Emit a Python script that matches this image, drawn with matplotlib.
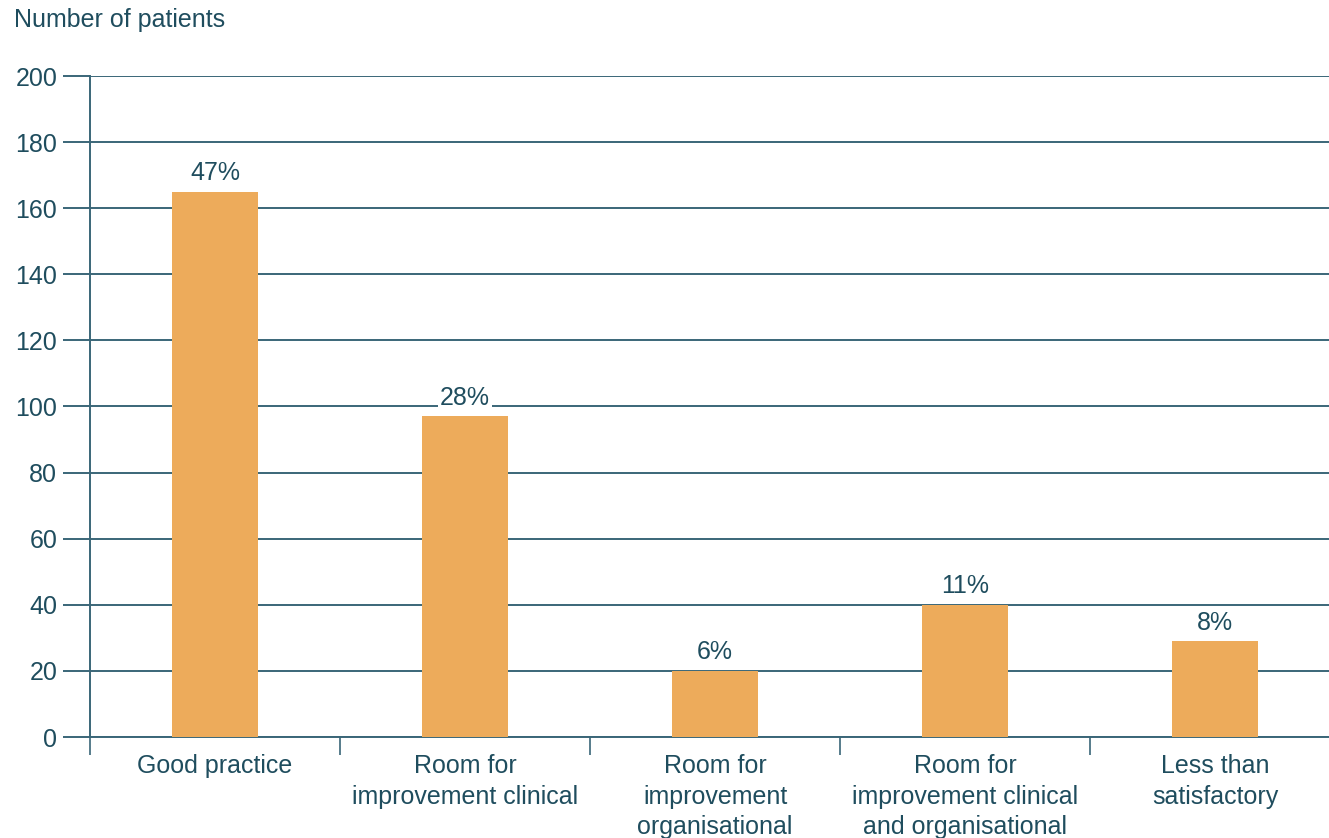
import matplotlib
matplotlib.use("Agg")
import matplotlib.pyplot as plt
import numpy as np

categories = [
    "Good practice",
    "Room for\nimprovement clinical",
    "Room for\nimprovement\norganisational",
    "Room for\nimprovement clinical\nand organisational",
    "Less than\nsatisfactory",
]
patients = [165, 97, 20, 40, 29]
pct_labels = ["47%", "28%", "6%", "11%", "8%"]
y_ticks = [0, 20, 40, 60, 80, 100, 120, 140, 160, 180, 200]

text_col = "#1f4d5e"
line_col = "#3a6678"
bar_col = "#edab5b"
fs = 18

plt.rcParams["font.family"] = ["Liberation Sans", "DejaVu Sans"]

W, H = 1329, 838
fig = plt.figure(figsize=(W / 100, H / 100), dpi=100)
left, right, bottom, top = 90, 1340, 737, 76
ax = fig.add_axes([left / W, (H - bottom) / H, (right - left) / W, (bottom - top) / H])

x = np.arange(len(categories))
ax.bar(x, patients, width=0.344, color=bar_col, zorder=3)

for xi, v, lab in zip(x, patients, pct_labels):
    ax.text(xi, v + 2.0, lab, ha="center", va="bottom", fontsize=fs, color=text_col, zorder=4,
            bbox=dict(facecolor="white", edgecolor="none", pad=1.5))

ax.set_xlim(-0.5, 4.5)
ax.set_ylim(0, 200)
ax.set_yticks(y_ticks)
ax.set_yticklabels([str(t) for t in y_ticks])
ax.yaxis.grid(True, color=line_col, linewidth=1.4, zorder=0)
ax.set_axisbelow(True)

ax.tick_params(axis="y", length=19.5, width=1.4, color=line_col, labelcolor=text_col,
               labelsize=fs, pad=4)
ax.set_xticks(x)
ax.set_xticklabels(categories, fontsize=fs, color=text_col, linespacing=1.36, va="top")
ax.tick_params(axis="x", which="major", length=0, pad=12)
ax.set_xticks(np.arange(-0.5, 5.0, 1.0), minor=True)
ax.tick_params(axis="x", which="minor", length=13, width=1.2, color=line_col, direction="out")

for s in ["top", "right"]:
    ax.spines[s].set_visible(False)
ax.spines["left"].set_color(line_col)
ax.spines["left"].set_linewidth(1.4)
ax.spines["bottom"].set_color(line_col)
ax.spines["bottom"].set_linewidth(1.4)

fig.text(14 / W, 1 - 20 / H, "Number of patients", fontsize=fs, color=text_col, va="center", ha="left")

fig.savefig("out.png", dpi=100)
